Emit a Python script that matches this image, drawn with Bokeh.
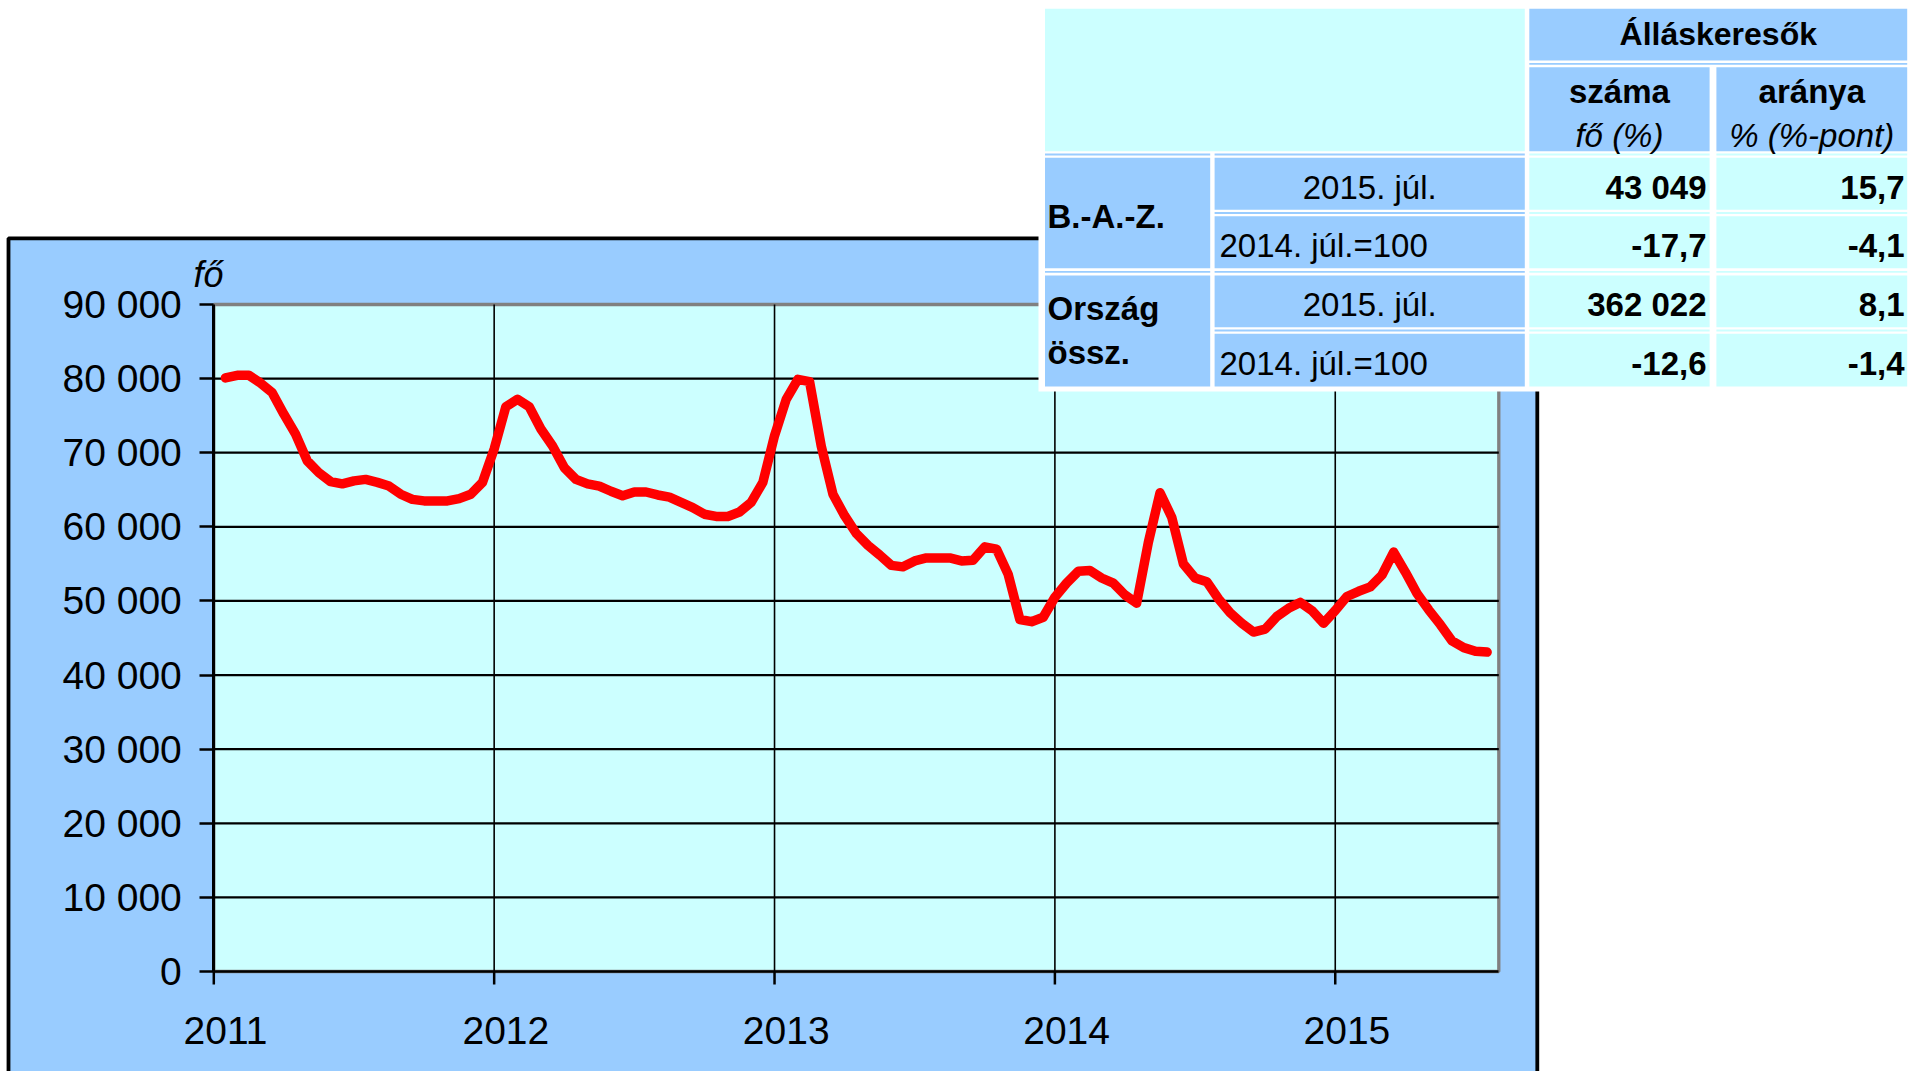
from bokeh.plotting import figure
from bokeh.models import Range1d, FixedTicker, BoxAnnotation, Label
from bokeh.embed import file_html
from bokeh.resources import INLINE

# ---------------- data ----------------
# registered job seekers in B.-A.-Z. county, twice a month, Jan 2011 - Jul 2015
jobseekers = [
    # 2011
    80100, 80450, 80450, 79400, 78100, 75200, 72500, 68900, 67300, 66100, 65800, 66200,
    66400, 66000, 65500, 64400, 63700, 63500, 63500, 63500, 63800, 64400, 66000, 70500,
    # 2012
    76200, 77200, 76200, 73200, 70900, 68000, 66400, 65800, 65500, 64800, 64200, 64700,
    64700, 64300, 64000, 63300, 62600, 61700, 61400, 61400, 62000, 63300, 66000, 72300,
    # 2013
    77200, 79900, 79600, 70900, 64400, 61500, 59100, 57500, 56200, 54800, 54600, 55400,
    55800, 55800, 55800, 55400, 55500, 57300, 57000, 53600, 47500, 47200, 47800, 50500,
    # 2014
    52400, 54000, 54100, 53100, 52400, 50800, 49700, 57900, 64600, 61300, 55000, 53100,
    52600, 50300, 48400, 47000, 45800, 46200, 47900, 49000, 49800, 48700, 47000, 48700,
    # 2015
    50600, 51300, 51900, 53500, 56600, 53900, 51000, 48800, 46800, 44600, 43700, 43200,
    43100,
]
# position in months from the start of 2011 (half-month steps)
months = [0.5 * (i + 1) for i in range(len(jobseekers))]

year_labels = ["2011", "2012", "2013", "2014", "2015"]
y_ticks = [0, 10000, 20000, 30000, 40000, 50000, 60000, 70000, 80000, 90000]
y_tick_labels = ["0", "10 000", "20 000", "30 000", "40 000", "50 000",
                 "60 000", "70 000", "80 000", "90 000"]
y_unit = "fő"

# table
tbl_header = "Álláskeresők"
tbl_col_titles = ["száma", "aránya"]
tbl_col_units = ["fő (%)", "% (%-pont)"]
tbl_regions = [["B.-A.-Z."], ["Ország", "össz."]]
tbl_periods = ["2015. júl.", "2014. júl.=100"]
tbl_szama = ["43 049", "-17,7", "362 022", "-12,6"]
tbl_aranya = ["15,7", "-4,1", "8,1", "-1,4"]

# ---------------- layout (pixel positions of the plot area) ----------------
W, H = 1916, 1071
X_MAX = 55.0
Y_MAX = 90000.0
PX_L, PX_R = 213.3, 1498.3   # x pixel of month 0 and month 55
PY_T, PY_B = 304.0, 971.0    # y pixel of 90 000 and 0
TXT_SHIFT = -10.5            # baseline correction for Label texts

LIGHT = "#99CCFF"
CYAN = "#CCFFFF"
FONT = "Liberation Sans"


def dx(px):
    return (px - PX_L) / (PX_R - PX_L) * X_MAX


def dy(py):
    return (PY_B - py) / (PY_B - PY_T) * Y_MAX


p = figure(width=W, height=H, output_backend="svg", toolbar_location=None,
           x_range=Range1d(dx(0), dx(W)), y_range=Range1d(dy(H), dy(0)),
           min_border=0, min_border_left=0, min_border_right=0,
           min_border_top=0, min_border_bottom=0,
           border_fill_color="white", background_fill_color="white",
           outline_line_color=None)
p.title.visible = False
p.xgrid.visible = False
p.ygrid.visible = False

# outer light-blue chart box with black frame
p.add_layout(BoxAnnotation(left=dx(8.0), right=dx(1536.8), top=dy(237.8), bottom=dy(H + 30),
                           fill_color=LIGHT, fill_alpha=1, line_color="black", line_alpha=1,
                           line_width=3.8, level="image"))
# plot area
p.add_layout(BoxAnnotation(left=0, right=X_MAX, top=Y_MAX, bottom=0,
                           fill_color=CYAN, fill_alpha=1, line_color="#808080", line_alpha=1,
                           line_width=3.3, level="image"))

year_ticks = [12 * i for i in range(len(year_labels))]

# grid lines restricted to the plot area
hy = y_ticks[1:-1]
p.segment(x0=[0] * len(hy), x1=[X_MAX] * len(hy), y0=hy, y1=hy,
          line_color="black", line_width=2.2)
vx = year_ticks[1:]
p.segment(x0=vx, x1=vx, y0=[0] * len(vx), y1=[Y_MAX] * len(vx),
          line_color="black", line_width=1.6)
# year tick marks below the x axis
tick_len = dy(PY_B) - dy(PY_B + 13)
p.segment(x0=year_ticks, x1=year_ticks, y0=[0] * len(year_ticks),
          y1=[-tick_len] * len(year_ticks), line_color="black", line_width=2.5)

# data line
p.line(months, jobseekers, line_color="#FF0000", line_width=9.5,
       line_join="round", line_cap="round")

# y axis fixed at the plot's left edge
ya = p.yaxis[0]
ya.fixed_location = 0
ya.bounds = (0, Y_MAX)
ya.ticker = FixedTicker(ticks=y_ticks)
ya.major_label_overrides = {t: l for t, l in zip(y_ticks, y_tick_labels)}
ya.axis_line_color = "black"
ya.axis_line_width = 3
ya.major_tick_line_width = 2.7
ya.major_tick_out = 14
ya.major_tick_in = 0
ya.minor_tick_line_color = None
ya.minor_tick_out = 0
ya.major_label_standoff = 18
ya.major_label_text_font = FONT
ya.major_label_text_font_size = "39px"
ya.major_label_text_color = "black"

# x axis fixed at the plot's bottom edge; year labels a little right of the ticks
lab_ticks = [t + 0.5 for t in year_ticks]
xa = p.xaxis[0]
xa.fixed_location = 0
xa.bounds = (0, X_MAX)
xa.ticker = FixedTicker(ticks=lab_ticks)
xa.major_label_overrides = {t: l for t, l in zip(lab_ticks, year_labels)}
xa.axis_line_color = "black"
xa.axis_line_width = 2.6
xa.major_tick_line_color = None
xa.major_tick_out = 0
xa.major_tick_in = 0
xa.minor_tick_line_color = None
xa.minor_tick_out = 0
xa.major_label_standoff = 45
xa.major_label_text_font = FONT
xa.major_label_text_font_size = "39px"
xa.major_label_text_color = "black"

# unit label
p.add_layout(Label(x=dx(193), y=dy(284 + TXT_SHIFT), text=y_unit, text_font=FONT,
                   text_font_size="36px", text_font_style="italic",
                   text_align="left", text_baseline="alphabetic", text_color="black",
                   level="overlay"))

# ---------------- table ----------------
colA = (1044.5, 1209.7)
colB = (1214.1, 1524.3)
colC = (1528.8, 1709.1)
colD = (1715.9, 1906.7)
rows = [(8.3, 60.0), (66.7, 150.7), (157.3, 209.3), (215.7, 267.7), (275.0, 326.7), (333.3, 386.0)]


def cell(x0, x1, y0, y1, color):
    p.add_layout(BoxAnnotation(left=dx(x0), right=dx(x1), top=dy(y0), bottom=dy(y1),
                               fill_color=color, fill_alpha=1, line_color=None,
                               level="overlay"))


def text(px, py, s, align="center", style="normal", size="33px"):
    p.add_layout(Label(x=dx(px), y=dy(py + TXT_SHIFT), text=s, text_font=FONT,
                       text_font_size=size, text_font_style=style, text_align=align,
                       text_baseline="alphabetic", text_color="black", level="overlay"))


# white backdrop
cell(1038, W + 20, -20, 391, "white")

# cells
cell(colA[0], colB[1], rows[0][0], rows[1][1], CYAN)
cell(colC[0], colD[1], rows[0][0], rows[0][1], LIGHT)
cell(colC[0], colC[1], rows[1][0], rows[1][1], LIGHT)
cell(colD[0], colD[1], rows[1][0], rows[1][1], LIGHT)
cell(colA[0], colA[1], rows[2][0], rows[3][1], LIGHT)
cell(colA[0], colA[1], rows[4][0], rows[5][1], LIGHT)
for r in rows[2:]:
    cell(colB[0], colB[1], r[0], r[1], LIGHT)
    cell(colC[0], colC[1], r[0], r[1], CYAN)
    cell(colD[0], colD[1], r[0], r[1], CYAN)


# double-line borders between rows (thin coloured line in the white gap)
def dline(x0, x1, ri, color):
    yc = (rows[ri][1] + rows[ri + 1][0]) / 2
    cell(x0, x1, yc - 0.9, yc + 0.9, color)


dline(colC[0], colD[1], 0, LIGHT)
dline(colA[0], colA[1], 1, LIGHT)
dline(colB[0], colB[1], 1, LIGHT)
dline(colC[0], colC[1], 1, CYAN)
dline(colD[0], colD[1], 1, CYAN)
for ri in (2, 3, 4):
    if ri == 3:
        dline(colA[0], colA[1], ri, LIGHT)
    dline(colB[0], colB[1], ri, LIGHT)
    dline(colC[0], colC[1], ri, CYAN)
    dline(colD[0], colD[1], ri, CYAN)

# header texts
text((colC[0] + colD[1]) / 2, 44, tbl_header, style="bold", size="32px")
for (c0, c1), title, unit in zip((colC, colD), tbl_col_titles, tbl_col_units):
    text((c0 + c1) / 2, 101.5, title, style="bold")
    text((c0 + c1) / 2, 145, unit, style="italic")

# region labels
text(1047, 226, tbl_regions[0][0], align="left", style="bold")
text(1047, 318, tbl_regions[1][0], align="left", style="bold")
text(1047, 362.5, tbl_regions[1][1], align="left", style="bold")

# period labels and values
baselines = [197, 255, 314, 373]
for i, yb in enumerate(baselines):
    per = tbl_periods[i % 2]
    if i % 2 == 0:
        text((colB[0] + colB[1]) / 2, yb, per)
    else:
        text(1219, yb, per, align="left")
    text(1706, yb, tbl_szama[i], align="right", style="bold")
    text(1904, yb, tbl_aranya[i], align="right", style="bold")

open("out.html", "w").write(file_html(p, INLINE))
